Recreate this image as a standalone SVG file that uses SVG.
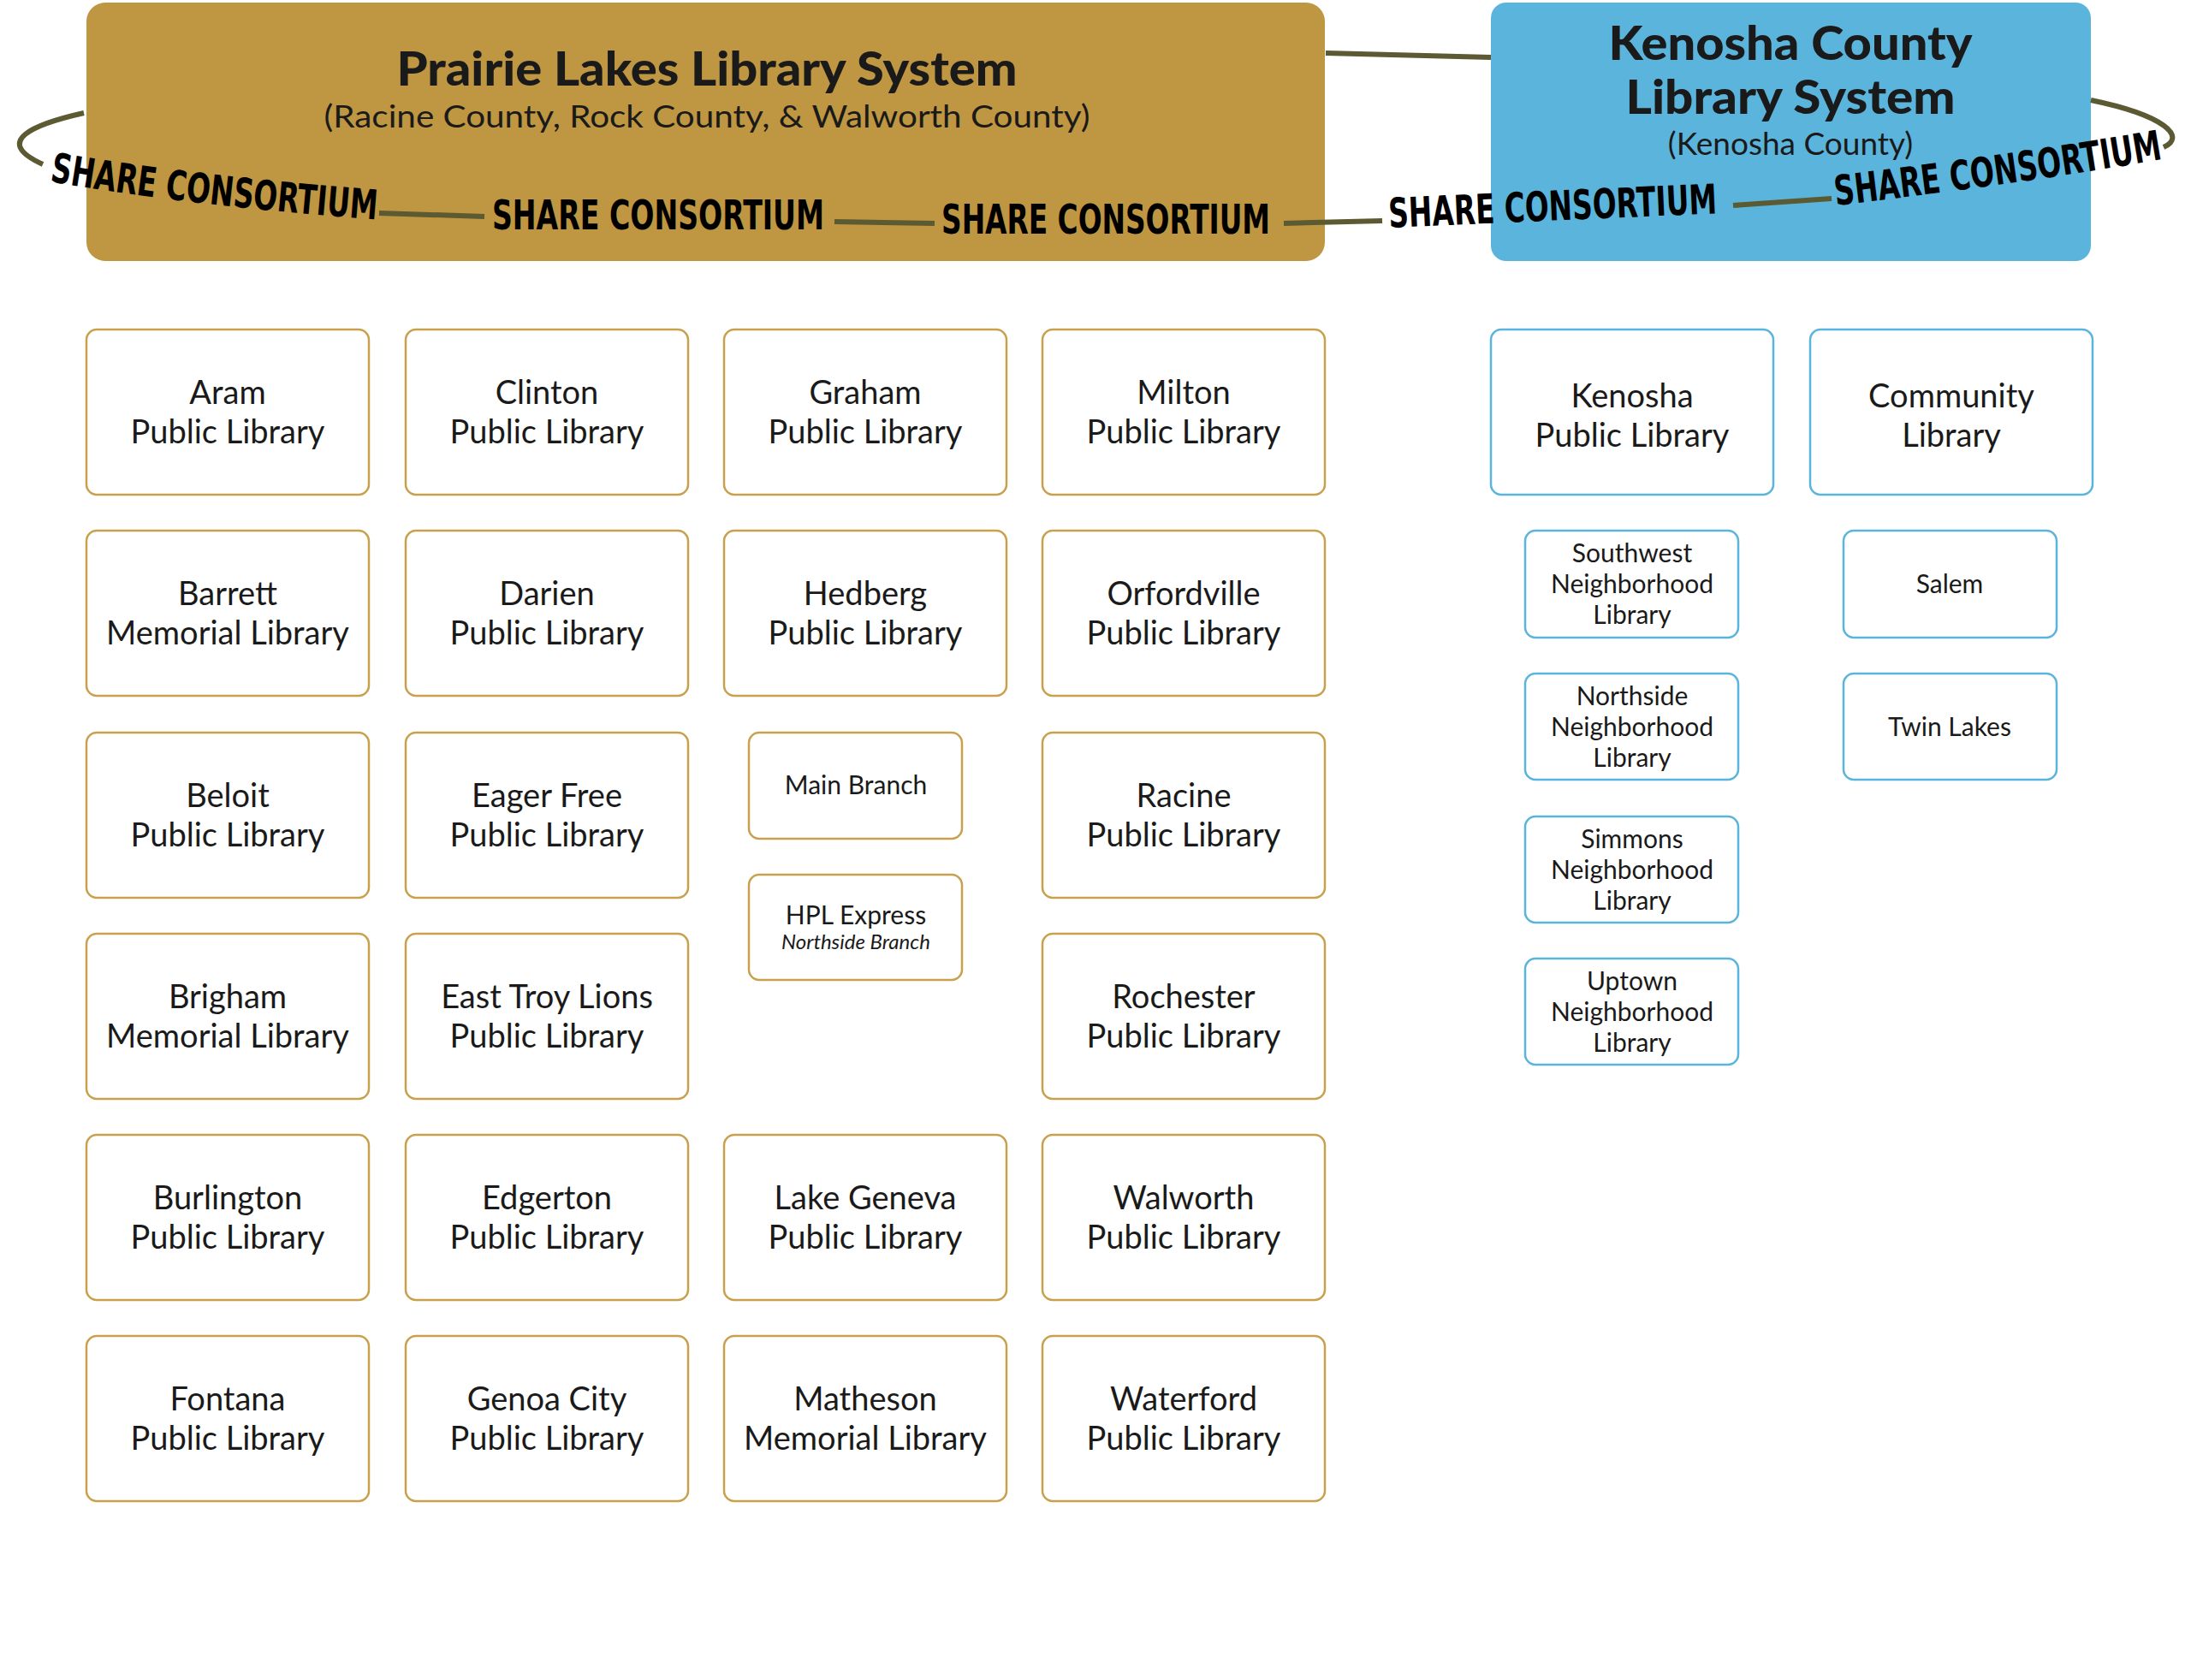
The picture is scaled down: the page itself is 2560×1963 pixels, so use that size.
<svg xmlns="http://www.w3.org/2000/svg" width="2560" height="1963" viewBox="0 0 2560 1963">
<style>
.g rect{fill:#fff;stroke:#c9a04e;stroke-width:2.5}
.b rect{fill:#fff;stroke:#5ab4dc;stroke-width:2.5}
text{font-family:Lato,"Noto Sans",sans-serif;fill:#1a1a1a;text-anchor:middle}
.t{font-size:38px}
.s{font-size:30px}
.h{font-size:56px;font-weight:900}
.sub{font-size:37px}
.lbl{font-family:"DejaVu Sans Condensed","DejaVu Sans",sans-serif;font-weight:bold;font-size:48px;fill:#000;text-anchor:start}
.c{fill:none;stroke:#5b5a32;stroke-width:6}
</style>
<rect width="2560" height="1963" fill="#fff"/>
<g id="prairie"><rect x="101" y="3" width="1447" height="302" rx="22" fill="#bf9641"/>
<text class="h" x="826" y="100" textLength="725" lengthAdjust="spacingAndGlyphs">Prairie Lakes Library System</text>
<text class="sub" x="826" y="149" textLength="895" lengthAdjust="spacingAndGlyphs">(Racine County, Rock County, &amp; Walworth County)</text></g>
<g id="kenosha"><rect x="1742" y="3" width="701" height="302" rx="18" fill="#5ab4db"/>
<text class="h" x="2092" y="70" textLength="425" lengthAdjust="spacingAndGlyphs">Kenosha County</text>
<text class="h" x="2092" y="133" textLength="385" lengthAdjust="spacingAndGlyphs">Library System</text>
<text class="sub" x="2092" y="181">(Kenosha County)</text></g>
<defs>
<path id="p1" d="M58 212 Q220 240 445 257"/>
<path id="p5" d="M2145 240 Q2360 215 2532 185"/>
</defs>
<g id="connectors">
<path class="c" d="M98 132 C40 145 -10 165 50 192"/>
<path class="c" d="M443 249 L566 253"/>
<path class="c" d="M975 259 L1092 261"/>
<path class="c" d="M1500 261 L1615 258"/>
<path class="c" d="M2025 240 L2140 232"/>
<path class="c" d="M2443 117 C2530 135 2555 160 2528 172"/>
<path class="c" d="M1549 62 L1742 67"/>
<text class="lbl"><textPath href="#p1" textLength="385" lengthAdjust="spacingAndGlyphs">SHARE CONSORTIUM</textPath></text>
<text class="lbl" x="575" y="268" textLength="388" lengthAdjust="spacingAndGlyphs">SHARE CONSORTIUM</text>
<text class="lbl" x="1100" y="273" textLength="384" lengthAdjust="spacingAndGlyphs">SHARE CONSORTIUM</text>
<text class="lbl" x="1623" y="266" transform="rotate(-2.5 1623 266)" textLength="384" lengthAdjust="spacingAndGlyphs">SHARE CONSORTIUM</text>
<text class="lbl"><textPath href="#p5" textLength="386" lengthAdjust="spacingAndGlyphs">SHARE CONSORTIUM</textPath></text>
</g>
<g class="g">
<g id="aram"><rect x="101" y="385" width="330" height="193" rx="12"/><text class="t" x="266" y="472">Aram</text><text class="t" x="266" y="518">Public Library</text></g>
<g id="barrett"><rect x="101" y="620" width="330" height="193" rx="12"/><text class="t" x="266" y="707">Barrett</text><text class="t" x="266" y="753">Memorial Library</text></g>
<g id="beloit"><rect x="101" y="856" width="330" height="193" rx="12"/><text class="t" x="266" y="943">Beloit</text><text class="t" x="266" y="989">Public Library</text></g>
<g id="brigham"><rect x="101" y="1091" width="330" height="193" rx="12"/><text class="t" x="266" y="1178">Brigham</text><text class="t" x="266" y="1224">Memorial Library</text></g>
<g id="burlington"><rect x="101" y="1326" width="330" height="193" rx="12"/><text class="t" x="266" y="1413">Burlington</text><text class="t" x="266" y="1459">Public Library</text></g>
<g id="fontana"><rect x="101" y="1561" width="330" height="193" rx="12"/><text class="t" x="266" y="1648">Fontana</text><text class="t" x="266" y="1694">Public Library</text></g>

<g id="clinton"><rect x="474" y="385" width="330" height="193" rx="12"/><text class="t" x="639" y="472">Clinton</text><text class="t" x="639" y="518">Public Library</text></g>
<g id="darien"><rect x="474" y="620" width="330" height="193" rx="12"/><text class="t" x="639" y="707">Darien</text><text class="t" x="639" y="753">Public Library</text></g>
<g id="eager"><rect x="474" y="856" width="330" height="193" rx="12"/><text class="t" x="639" y="943">Eager Free</text><text class="t" x="639" y="989">Public Library</text></g>
<g id="easttroy"><rect x="474" y="1091" width="330" height="193" rx="12"/><text class="t" x="639" y="1178">East Troy Lions</text><text class="t" x="639" y="1224">Public Library</text></g>
<g id="edgerton"><rect x="474" y="1326" width="330" height="193" rx="12"/><text class="t" x="639" y="1413">Edgerton</text><text class="t" x="639" y="1459">Public Library</text></g>
<g id="genoa"><rect x="474" y="1561" width="330" height="193" rx="12"/><text class="t" x="639" y="1648">Genoa City</text><text class="t" x="639" y="1694">Public Library</text></g>

<g id="graham"><rect x="846" y="385" width="330" height="193" rx="12"/><text class="t" x="1011" y="472">Graham</text><text class="t" x="1011" y="518">Public Library</text></g>
<g id="hedberg"><rect x="846" y="620" width="330" height="193" rx="12"/><text class="t" x="1011" y="707">Hedberg</text><text class="t" x="1011" y="753">Public Library</text></g>
<g id="main"><rect x="875" y="856" width="249" height="124" rx="12"/><text class="s" x="1000" y="928">Main Branch</text></g>
<g id="hpl"><rect x="875" y="1022" width="249" height="123" rx="12"/><text class="s" x="1000" y="1080">HPL Express</text><text x="1000" y="1109" style="font-size:24px;font-style:italic">Northside Branch</text></g>
<g id="lakegeneva"><rect x="846" y="1326" width="330" height="193" rx="12"/><text class="t" x="1011" y="1413">Lake Geneva</text><text class="t" x="1011" y="1459">Public Library</text></g>
<g id="matheson"><rect x="846" y="1561" width="330" height="193" rx="12"/><text class="t" x="1011" y="1648">Matheson</text><text class="t" x="1011" y="1694">Memorial Library</text></g>

<g id="milton"><rect x="1218" y="385" width="330" height="193" rx="12"/><text class="t" x="1383" y="472">Milton</text><text class="t" x="1383" y="518">Public Library</text></g>
<g id="orfordville"><rect x="1218" y="620" width="330" height="193" rx="12"/><text class="t" x="1383" y="707">Orfordville</text><text class="t" x="1383" y="753">Public Library</text></g>
<g id="racine"><rect x="1218" y="856" width="330" height="193" rx="12"/><text class="t" x="1383" y="943">Racine</text><text class="t" x="1383" y="989">Public Library</text></g>
<g id="rochester"><rect x="1218" y="1091" width="330" height="193" rx="12"/><text class="t" x="1383" y="1178">Rochester</text><text class="t" x="1383" y="1224">Public Library</text></g>
<g id="walworth"><rect x="1218" y="1326" width="330" height="193" rx="12"/><text class="t" x="1383" y="1413">Walworth</text><text class="t" x="1383" y="1459">Public Library</text></g>
<g id="waterford"><rect x="1218" y="1561" width="330" height="193" rx="12"/><text class="t" x="1383" y="1648">Waterford</text><text class="t" x="1383" y="1694">Public Library</text></g>
</g>
<g class="b">
<g id="kpl"><rect x="1742" y="385" width="330" height="193" rx="12"/><text class="t" x="1907" y="476">Kenosha</text><text class="t" x="1907" y="522">Public Library</text></g>
<g id="community"><rect x="2115" y="385" width="330" height="193" rx="12"/><text class="t" x="2280" y="476">Community</text><text class="t" x="2280" y="522">Library</text></g>
<g id="southwest"><rect x="1782" y="620" width="249" height="125" rx="12"/><text class="s" x="1907" y="657">Southwest</text><text class="s" x="1907" y="693">Neighborhood</text><text class="s" x="1907" y="729">Library</text></g>
<g id="northside"><rect x="1782" y="787" width="249" height="124" rx="12"/><text class="s" x="1907" y="824">Northside</text><text class="s" x="1907" y="860">Neighborhood</text><text class="s" x="1907" y="896">Library</text></g>
<g id="simmons"><rect x="1782" y="954" width="249" height="124" rx="12"/><text class="s" x="1907" y="991">Simmons</text><text class="s" x="1907" y="1027">Neighborhood</text><text class="s" x="1907" y="1063">Library</text></g>
<g id="uptown"><rect x="1782" y="1120" width="249" height="124" rx="12"/><text class="s" x="1907" y="1157">Uptown</text><text class="s" x="1907" y="1193">Neighborhood</text><text class="s" x="1907" y="1229">Library</text></g>
<g id="salem"><rect x="2154" y="620" width="249" height="125" rx="12"/><text class="s" x="2278" y="693">Salem</text></g>
<g id="twinlakes"><rect x="2154" y="787" width="249" height="124" rx="12"/><text class="s" x="2278" y="860">Twin Lakes</text></g>
</g>
</svg>
